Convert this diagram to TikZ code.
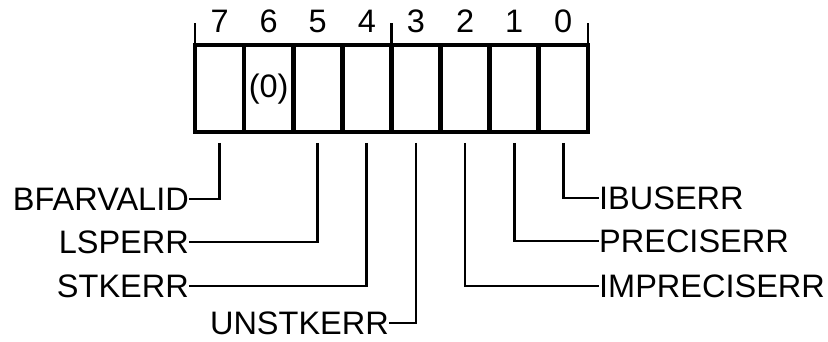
\documentclass[tikz,border=0pt]{standalone}
\usepackage{fontspec}
\setmainfont{Liberation Sans}
\usetikzlibrary{calc}
\newcommand{\lbfont}{\fontsize{32.5}{38}\selectfont}
\begin{document}
\begin{tikzpicture}[x=1pt,y=-1pt,
  cell/.style={draw, line width=4.6pt, minimum width=49.1pt, minimum height=87pt, inner sep=0pt, outer sep=0pt},
  lbl/.style={inner sep=0pt, font=\lbfont},
  lead/.style={line width=2.8pt},
  bittick/.style={line width=2.2pt}]
\useasboundingbox (0,0) rectangle (828,342);
\foreach \k in {0,...,7}{
  \pgfmathtruncatemacro{\bit}{7-\k}
  \node[cell] (c\bit) at ({195+49.1*(\k+0.5)},88.5) {};
  \node[lbl] (b\bit) at ({195+49.1*(\k+0.5)},21.5) {\bit};
}
\node[lbl] (zero) at ($(c6.center)+(0,1)$) {(0)};
% ticks
\draw[bittick] (c7.north west) -- ++(0,-22);
\draw[bittick] (c4.north east) -- ++(0,-22);
\draw[bittick] (c0.north east) -- ++(0,-22);
% labels
\node[lbl, anchor=east] (bfar) at (189,199) {BFARVALID};
\node[lbl, anchor=east] (lsp) at (189,242) {LSPERR};
\node[lbl, anchor=east] (stk) at (189,286) {STKERR};
\node[lbl, anchor=east] (unstk) at (389,323) {UNSTKERR};
\node[lbl, anchor=west] (ibus) at (599,198) {IBUSERR};
\node[lbl, anchor=west] (prec) at (599,241) {PRECISERR};
\node[lbl, anchor=west] (imprec) at (599,286) {IMPRECISERR};
% leaders
\draw[lead] ($(c7.south)+(0,11)$) |- (bfar.east);
\draw[lead] ($(c5.south)+(0,11)$) |- (lsp.east);
\draw[lead] ($(c4.south)+(0,11)$) |- (stk.east);
\draw[lead] ($(c3.south)+(0,11)$) |- (unstk.east);
\draw[lead] ($(c2.south)+(0,11)$) |- (imprec.west);
\draw[lead] ($(c1.south)+(0,11)$) |- (prec.west);
\draw[lead] ($(c0.south)+(0,11)$) |- (ibus.west);
\end{tikzpicture}
\end{document}
